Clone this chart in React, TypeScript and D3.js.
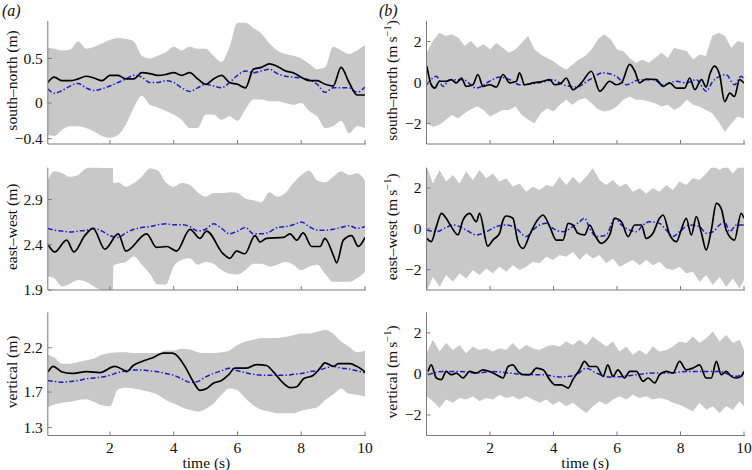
import React from "react";
import * as d3 from "d3";

// ---------------- DATA ----------------
const xTicks = [2, 4, 6, 8, 10];

// (a) position panels: common time grid
const timeA = [0.05, 0.25, 0.5, 0.75, 1, 1.25, 1.5, 1.75, 2, 2.25, 2.5, 2.75, 3, 3.25, 3.5, 3.75, 4, 4.25, 4.5, 4.75, 5, 5.25, 5.5, 5.75, 6, 6.25, 6.5, 6.75, 7, 7.25, 7.5, 7.75, 8, 8.25, 8.5, 8.75, 9, 9.25, 9.5, 9.75, 10];

// south-north (m)
const aSNUpper = [0.62, 0.61, 0.59, 0.60, 0.69, 0.61, 0.63, 0.67, 0.71, 0.73, 0.72, 0.69, 0.53, 0.50, 0.53, 0.57, 0.63, 0.59, 0.63, 0.61, 0.61, 0.53, 0.46, 0.63, 0.90, 0.90, 0.84, 0.78, 0.67, 0.59, 0.55, 0.53, 0.50, 0.44, 0.38, 0.40, 0.63, 0.59, 0.55, 0.59, 0.65];
const aSNLower = [-0.36, -0.37, -0.30, -0.26, -0.26, -0.28, -0.32, -0.37, -0.39, -0.36, -0.24, -0.05, 0.08, -0.02, -0.05, -0.09, -0.13, -0.19, -0.28, -0.28, -0.13, -0.13, -0.19, -0.15, -0.20, -0.07, 0.04, 0.04, 0.02, 0.02, 0.00, -0.02, 0.00, -0.09, -0.15, -0.28, -0.26, -0.20, -0.34, -0.26, -0.28];
const aSNObserved = [0.23, 0.29, 0.25, 0.25, 0.27, 0.30, 0.28, 0.25, 0.31, 0.31, 0.27, 0.27, 0.34, 0.33, 0.31, 0.32, 0.34, 0.31, 0.34, 0.27, 0.21, 0.27, 0.31, 0.23, 0.21, 0.17, 0.38, 0.40, 0.44, 0.41, 0.36, 0.34, 0.29, 0.25, 0.25, 0.21, 0.19, 0.40, 0.23, 0.09, 0.09];
const aSNMean = [0.16, 0.11, 0.14, 0.19, 0.22, 0.17, 0.14, 0.16, 0.19, 0.23, 0.27, 0.31, 0.29, 0.23, 0.23, 0.25, 0.23, 0.17, 0.13, 0.17, 0.21, 0.19, 0.17, 0.23, 0.31, 0.36, 0.34, 0.36, 0.38, 0.33, 0.30, 0.29, 0.28, 0.26, 0.21, 0.12, 0.17, 0.17, 0.17, 0.12, 0.18];

// east-west (m)
const aEWBandTime = [0.05, 0.25, 0.5, 0.75, 1, 1.25, 1.5, 1.75, 2, 2.09, 2.11, 2.25, 2.5, 2.75, 3, 3.25, 3.5, 3.75, 4, 4.25, 4.5, 4.75, 5, 5.25, 5.5, 5.75, 6, 6.25, 6.5, 6.75, 7, 7.25, 7.5, 7.75, 8, 8.25, 8.5, 8.75, 9, 9.25, 9.5, 9.75, 10];
const aEWUpper = [3.11, 3.21, 3.19, 3.15, 3.17, 3.24, 3.26, 3.25, 3.25, 3.25, 3.08, 3.09, 3.04, 3.08, 3.15, 3.24, 3.22, 3.09, 3.04, 3.08, 3.06, 2.98, 2.93, 2.97, 2.97, 2.98, 2.97, 2.91, 2.89, 2.87, 2.98, 2.93, 2.97, 3.08, 3.17, 3.22, 3.11, 3.09, 3.15, 3.21, 3.17, 3.19, 3.11];
const aEWLower = [2.05, 2.03, 1.94, 1.97, 2.01, 1.99, 1.94, 1.90, 1.90, 1.90, 2.17, 2.19, 2.21, 2.27, 2.18, 2.08, 1.96, 1.96, 2.16, 2.23, 2.25, 2.18, 2.21, 2.19, 2.12, 2.08, 2.07, 2.12, 2.19, 2.19, 2.16, 2.18, 2.21, 2.18, 2.12, 2.16, 2.18, 2.08, 1.99, 1.99, 1.99, 2.03, 2.10];
const aEWObsTime = [0.06, 0.27, 0.64, 0.87, 1.21, 1.47, 1.84, 2.26, 2.50, 3.15, 3.46, 3.78, 4.09, 4.51, 4.82, 5.03, 5.55, 5.76, 5.97, 6.23, 6.55, 6.71, 6.91, 7.44, 7.65, 7.86, 8.06, 8.33, 8.59, 8.74, 9.01, 9.11, 9.32, 9.58, 9.79, 10.0];
const aEWObserved = [2.40, 2.32, 2.45, 2.32, 2.50, 2.58, 2.35, 2.52, 2.33, 2.52, 2.37, 2.38, 2.33, 2.57, 2.47, 2.55, 2.30, 2.25, 2.33, 2.30, 2.50, 2.43, 2.47, 2.48, 2.52, 2.45, 2.53, 2.38, 2.38, 2.47, 2.28, 2.20, 2.45, 2.50, 2.38, 2.48];
const aEWMean = [2.58, 2.56, 2.55, 2.54, 2.55, 2.56, 2.58, 2.55, 2.50, 2.48, 2.53, 2.57, 2.59, 2.60, 2.62, 2.63, 2.62, 2.62, 2.60, 2.55, 2.57, 2.63, 2.58, 2.52, 2.55, 2.59, 2.52, 2.52, 2.54, 2.59, 2.60, 2.62, 2.65, 2.60, 2.56, 2.56, 2.57, 2.59, 2.61, 2.58, 2.60];

// vertical (m)
const aVUpper = [2.12, 2.09, 2.02, 2.02, 2.04, 2.06, 2.08, 2.12, 2.14, 2.15, 2.15, 2.14, 2.14, 2.14, 2.14, 2.17, 2.17, 2.19, 2.18, 2.15, 2.14, 2.14, 2.15, 2.17, 2.23, 2.27, 2.29, 2.31, 2.31, 2.31, 2.32, 2.34, 2.36, 2.36, 2.38, 2.40, 2.36, 2.27, 2.21, 2.15, 2.17];
const aVLower = [1.53, 1.56, 1.58, 1.59, 1.61, 1.62, 1.59, 1.55, 1.54, 1.73, 1.75, 1.74, 1.72, 1.70, 1.67, 1.61, 1.57, 1.53, 1.50, 1.48, 1.51, 1.57, 1.67, 1.74, 1.72, 1.63, 1.55, 1.50, 1.48, 1.46, 1.46, 1.46, 1.49, 1.51, 1.53, 1.61, 1.67, 1.74, 1.68, 1.67, 1.65];
const aVObsTime = [0.06, 0.22, 0.48, 0.79, 1.27, 1.68, 2.15, 2.42, 2.52, 2.73, 3.04, 3.36, 3.67, 3.93, 4.04, 4.35, 4.61, 4.82, 5.03, 5.24, 5.50, 5.71, 5.92, 6.29, 6.60, 6.91, 7.12, 7.44, 7.65, 7.86, 8.07, 8.38, 8.59, 8.74, 9.01, 9.16, 9.53, 9.74, 10.0];
const aVObserved = [1.93, 1.99, 1.93, 1.91, 1.93, 1.92, 1.99, 1.95, 1.93, 2.00, 2.05, 2.09, 2.14, 2.14, 2.13, 1.99, 1.82, 1.72, 1.74, 1.80, 1.83, 1.89, 1.97, 1.97, 2.01, 2.00, 1.93, 1.80, 1.75, 1.76, 1.85, 1.89, 1.97, 2.03, 1.99, 2.02, 2.02, 1.99, 1.93];
const aVMean = [1.83, 1.82, 1.81, 1.82, 1.83, 1.85, 1.86, 1.87, 1.89, 1.92, 1.94, 1.95, 1.95, 1.94, 1.93, 1.91, 1.89, 1.85, 1.81, 1.82, 1.87, 1.91, 1.94, 1.97, 1.94, 1.92, 1.90, 1.89, 1.89, 1.89, 1.89, 1.90, 1.91, 1.93, 1.94, 1.97, 1.99, 1.97, 1.96, 1.94, 1.92];

// (b) velocity panels
const timeB1 = [0, 0.2, 0.4, 0.6, 0.8, 1, 1.2, 1.4, 1.6, 1.8, 2, 2.2, 2.4, 2.6, 2.8, 3, 3.2, 3.4, 3.6, 3.8, 4, 4.2, 4.4, 4.6, 4.8, 5, 5.2, 5.4, 5.6, 5.8, 6, 6.2, 6.4, 6.6, 6.8, 7, 7.2, 7.4, 7.6, 7.8, 8, 8.2, 8.4, 8.6, 8.8, 9, 9.2, 9.4, 9.6, 9.8, 10];
const timeB2 = [0, 0.2, 0.41, 0.62, 0.83, 1.04, 1.25, 1.46, 1.67, 1.88, 2.09, 2.30, 2.51, 2.72, 2.93, 3.14, 3.35, 3.56, 3.77, 3.98, 4.19, 4.40, 4.61, 4.82, 5.03, 5.24, 5.45, 5.66, 5.87, 6.08, 6.29, 6.50, 6.71, 6.92, 7.13, 7.34, 7.55, 7.76, 7.97, 8.18, 8.39, 8.60, 8.81, 9.02, 9.23, 9.44, 9.65, 9.86, 10.0];

// south-north (m s-1)
const bSNUpper = [1.45, 2.02, 2.43, 2.27, 2.35, 2.19, 1.78, 2.02, 1.70, 1.86, 1.61, 1.94, 1.70, 1.45, 1.61, 1.94, 2.27, 1.61, 1.37, 1.20, 1.04, 0.80, 0.63, 0.88, 1.12, 1.29, 1.61, 2.11, 2.35, 2.11, 1.61, 1.53, 1.20, 0.96, 1.12, 0.96, 1.20, 1.45, 1.20, 1.70, 1.61, 1.53, 1.12, 1.37, 1.29, 2.27, 2.43, 2.27, 1.70, 2.02, 1.94];
const bSNLower = [-1.99, -2.16, -2.07, -1.83, -1.58, -1.75, -1.50, -1.30, -1.17, -1.34, -1.66, -1.50, -1.34, -1.34, -1.17, -1.58, -1.80, -2.00, -1.50, -1.25, -1.42, -1.09, -0.84, -1.09, -0.84, -0.76, -1.01, -1.30, -1.42, -1.34, -1.17, -0.84, -0.68, -0.84, -0.84, -0.93, -1.01, -1.17, -1.09, -1.34, -1.17, -0.84, -1.09, -1.17, -1.34, -1.50, -1.90, -2.40, -2.00, -1.66, -1.75];
const bSNObsTime = [0.01, 0.15, 0.26, 0.41, 0.62, 0.78, 0.94, 1.10, 1.25, 1.46, 1.62, 1.78, 1.99, 2.20, 2.41, 2.62, 2.83, 2.93, 3.09, 3.35, 3.67, 3.88, 4.04, 4.25, 4.40, 4.61, 4.88, 5.19, 5.46, 5.77, 5.98, 6.14, 6.40, 6.56, 6.71, 6.92, 7.24, 7.45, 7.66, 7.87, 8.13, 8.29, 8.45, 8.66, 8.81, 8.92, 9.07, 9.23, 9.39, 9.55, 9.70, 9.86, 10.0];
const bSNObserved = [0.80, -0.11, -0.27, 0.06, 0.06, 0.14, -0.02, 0.22, -0.19, -0.11, 0.39, -0.19, -0.11, -0.22, 0.39, -0.02, 0.06, 0.47, -0.11, -0.02, 0.06, 0.14, -0.11, -0.02, 0.22, -0.35, -0.02, 0.55, -0.43, 0.06, -0.11, -0.02, 0.88, 0.55, -0.02, 0.17, 0.14, -0.19, -0.02, -0.27, -0.27, 0.22, -0.35, 0.14, -0.22, 0.39, 0.80, 0.39, -0.93, -0.52, -0.68, 0.14, -0.02];
const bSNMeanTime = [0.01, 0.31, 0.52, 0.73, 1.15, 1.57, 1.99, 2.30, 2.62, 2.93, 3.35, 3.77, 3.98, 4.30, 4.72, 5.14, 5.56, 5.98, 6.29, 6.71, 7.13, 7.45, 7.87, 8.18, 8.50, 8.81, 9.02, 9.23, 9.44, 9.70, 9.91, 10.0];
const bSNMean = [-0.10, 0.30, -0.19, 0.14, 0.14, -0.27, 0.06, 0.27, 0.14, -0.11, -0.06, 0.06, 0.14, -0.11, -0.22, 0.14, 0.47, 0.30, -0.11, 0.14, 0.14, -0.11, 0.06, -0.02, 0.14, -0.43, 0.06, 0.30, 0.38, -0.11, 0.30, 0.14];

// east-west (m s-1)
const bEWUpper = [3.1, 2.23, 2.89, 2.32, 2.64, 2.23, 2.81, 2.40, 2.89, 2.48, 2.72, 2.32, 2.48, 2.07, 2.23, 1.82, 2.07, 1.91, 2.15, 2.07, 2.56, 2.15, 2.56, 2.23, 2.56, 2.97, 2.40, 2.15, 2.40, 2.07, 2.23, 1.82, 1.99, 1.74, 1.99, 1.82, 2.15, 1.91, 2.32, 2.15, 2.48, 2.40, 2.72, 3.1, 2.89, 3.1, 2.72, 3.1, 3.1];
const bEWLower = [-3.1, -2.35, -2.84, -2.27, -2.60, -2.18, -2.43, -2.02, -2.27, -1.94, -2.18, -1.86, -2.10, -1.78, -2.02, -1.86, -1.61, -1.69, -1.37, -1.53, -1.28, -1.37, -1.12, -1.53, -1.20, -1.45, -1.28, -1.69, -1.45, -1.86, -1.69, -1.53, -1.78, -1.53, -1.78, -1.61, -1.94, -2.02, -1.86, -2.18, -2.10, -2.60, -2.27, -2.76, -2.35, -2.84, -2.43, -2.92, -2.51];
const bEWObsTime = [0.01, 0.15, 0.31, 0.47, 0.62, 0.78, 0.99, 1.15, 1.36, 1.57, 1.67, 1.93, 2.09, 2.30, 2.41, 2.51, 2.72, 2.88, 3.04, 3.25, 3.46, 3.67, 3.88, 4.09, 4.30, 4.46, 4.61, 4.77, 4.98, 5.14, 5.30, 5.50, 5.77, 5.93, 6.14, 6.35, 6.56, 6.77, 6.92, 7.13, 7.34, 7.45, 7.66, 7.87, 8.02, 8.18, 8.34, 8.50, 8.66, 8.81, 8.97, 9.13, 9.28, 9.44, 9.70, 9.91, 10.0];
const bEWObserved = [-0.47, -0.63, 0.11, 0.76, 0.52, 0.11, -0.30, 0.43, 0.76, 0.35, 0.76, -0.85, -0.55, -0.22, 0.43, 0.63, 0.52, -0.63, -0.96, -0.30, 0.35, 0.68, 0.11, -0.55, -0.55, 0.27, 0.19, -0.22, -0.30, 0.19, -0.30, -0.71, -0.30, 0.52, 0.35, -0.38, 0.19, 0.19, -0.47, -0.22, 0.52, 0.68, -0.30, -0.63, -0.06, 0.52, -0.30, 0.60, -0.22, -1.04, -0.06, 1.25, 1.01, -0.06, -0.55, 0.76, 0.52];
const bEWMeanTime = [0.01, 0.31, 0.62, 0.83, 1.04, 1.25, 1.57, 1.88, 2.20, 2.51, 2.83, 3.14, 3.35, 3.56, 3.77, 3.98, 4.30, 4.61, 4.82, 4.98, 5.14, 5.35, 5.66, 5.93, 6.14, 6.40, 6.61, 6.82, 7.03, 7.34, 7.55, 7.76, 7.97, 8.29, 8.60, 8.81, 9.02, 9.23, 9.39, 9.55, 9.76, 10.0];
const bEWMean = [-0.06, -0.14, 0.07, 0.19, 0.11, -0.06, -0.30, -0.14, 0.11, 0.19, 0.02, -0.38, -0.06, 0.19, 0.27, 0.02, -0.14, 0.11, 0.35, 0.52, 0.02, -0.38, -0.30, 0.52, 0.19, -0.06, -0.14, 0.19, 0.35, 0.27, -0.06, -0.38, -0.14, 0.19, 0.11, -0.22, -0.14, 0.19, 0.35, -0.14, 0.19, 0.19];

// vertical (m s-1)
const bVUpper = [1.01, 1.66, 1.09, 1.50, 1.17, 1.41, 1.01, 1.33, 1.17, 1.25, 1.09, 1.25, 1.17, 1.50, 1.17, 1.41, 1.25, 1.17, 1.33, 1.41, 1.33, 1.58, 1.41, 1.66, 1.41, 1.82, 1.58, 1.33, 1.58, 1.09, 1.33, 0.93, 1.17, 0.93, 1.33, 1.09, 1.17, 1.33, 1.58, 1.50, 1.82, 1.50, 1.74, 2.06, 1.58, 1.90, 1.50, 1.66, 1.17];
const bVLower = [-1.09, -1.33, -1.66, -1.25, -1.41, -1.17, -1.25, -1.09, -1.33, -1.17, -1.25, -1.01, -1.17, -1.09, -1.25, -1.09, -1.25, -1.41, -1.25, -1.50, -1.33, -1.58, -1.41, -1.66, -1.90, -1.58, -1.33, -1.50, -1.25, -1.09, -1.25, -1.01, -1.17, -1.09, -1.25, -1.17, -1.25, -1.41, -1.50, -1.66, -1.82, -1.41, -1.74, -1.58, -1.90, -1.58, -1.74, -1.33, -1.58];
const bVObsTime = [0.05, 0.15, 0.31, 0.47, 0.62, 0.78, 0.94, 1.15, 1.36, 1.57, 1.78, 1.99, 2.20, 2.41, 2.57, 2.72, 2.88, 3.04, 3.25, 3.46, 3.67, 3.88, 4.04, 4.25, 4.46, 4.61, 4.82, 4.98, 5.14, 5.35, 5.56, 5.71, 5.87, 6.03, 6.24, 6.40, 6.61, 6.82, 6.98, 7.19, 7.34, 7.55, 7.76, 7.97, 8.18, 8.39, 8.60, 8.81, 8.97, 9.13, 9.28, 9.44, 9.60, 9.76, 9.91, 10.0];
const bVObserved = [0.12, 0.44, -0.20, -0.28, 0.12, -0.04, 0.04, -0.20, 0.12, 0.04, 0.20, 0.12, -0.04, -0.20, 0.36, 0.44, 0.12, -0.04, -0.04, 0.28, 0.20, -0.28, -0.53, -0.53, -0.69, -0.28, 0.20, 0.61, 0.36, 0.36, -0.12, 0.44, -0.12, 0.20, -0.20, 0.12, 0.12, -0.36, -0.20, -0.44, -0.04, 0.12, 0.04, 0.61, 0.20, 0.28, 0.44, -0.20, -0.20, 0.61, -0.04, 0.12, -0.12, -0.20, -0.12, 0.12];
const bVMeanTime = [0.05, 0.52, 1.04, 1.57, 2.09, 2.62, 3.14, 3.67, 4.19, 4.72, 5.03, 5.35, 5.77, 6.19, 6.61, 7.13, 7.66, 8.18, 8.71, 9.23, 9.55, 9.76, 10.0];
const bVMean = [-0.04, 0.12, 0.12, 0.04, 0.12, 0.04, -0.04, -0.04, -0.15, -0.04, 0.28, 0.04, -0.15, -0.12, -0.04, 0.04, 0.04, 0.12, 0.12, 0.12, -0.04, -0.12, 0.04];

// axis tick labels
const aSNTicks = [0.5, 0, -0.4];
const aEWTicks = [2.9, 2.4, 1.9];
const aVTicks = [2.2, 1.7, 1.3];
const bTicks = [2, 0, -2];

// ---------------- LAYOUT ----------------
const FONT = "'Liberation Serif', 'Times New Roman', serif";
const TICK_FS = 15.5;
const LABEL_FS = 15.5;
const LEFT = { x0: 47.8, x1: 365, domain: [0.05, 10] };
const RIGHT = { x0: 426.5, x1: 744, domain: [0, 10] };
const ROWS = [
  { y0: 21, y1: 144 },
  { y0: 167.7, y1: 290 },
  { y0: 312.3, y1: 435.5 },
];

const fmt = (v: number) => {
  const s = String(v);
  return s.startsWith("-") ? "\u2212" + s.slice(1) : s;
};

type PanelProps = {
  id: string;
  col: typeof LEFT;
  row: { y0: number; y1: number };
  yDomain: [number, number];
  yTicks: number[];
  bandT: number[];
  bandLo: number[];
  bandHi: number[];
  obsT: number[];
  obs: number[];
  meanT: number[];
  mean: number[];
  smoothBand: boolean;
  showXLabels: boolean;
  yLabel: React.ReactNode;
  yLabelX: number;
};

function Panel(p: PanelProps) {
  const x = d3.scaleLinear().domain(p.col.domain).range([p.col.x0, p.col.x1]);
  const y = d3.scaleLinear().domain(p.yDomain).range([p.row.y1, p.row.y0]);
  const band = p.bandT.map((t, i) => ({ t, lo: p.bandLo[i], hi: p.bandHi[i] }));
  const area = d3
    .area<{ t: number; lo: number; hi: number }>()
    .x((d) => x(d.t))
    .y0((d) => y(d.lo))
    .y1((d) => y(d.hi))
    .curve(p.smoothBand ? d3.curveMonotoneX : d3.curveLinear);
  const line = d3
    .line<[number, number]>()
    .x((d) => x(d[0]))
    .y((d) => y(d[1]))
    .curve(d3.curveMonotoneX);
  const obsPts = p.obsT.map((t, i) => [t, p.obs[i]] as [number, number]);
  const meanPts = p.meanT.map((t, i) => [t, p.mean[i]] as [number, number]);
  const axisColor = "#7a7a7a";
  const midY = (p.row.y0 + p.row.y1) / 2 - 2;
  return (
    <g>
      <defs>
        <clipPath id={p.id}>
          <rect x={p.col.x0} y={p.row.y0} width={p.col.x1 - p.col.x0} height={p.row.y1 - p.row.y0} />
        </clipPath>
      </defs>
      <g clipPath={`url(#${p.id})`}>
        <path d={area(band) || ""} fill="#c8c8c8" stroke="none" />
        <path d={line(meanPts) || ""} fill="none" stroke="#1c1cc8" strokeWidth={1.5} strokeDasharray="5,2.2,1.4,2.2" />
        <path d={line(obsPts) || ""} fill="none" stroke="#000" strokeWidth={1.7} />
      </g>
      {/* axes */}
      <line x1={p.col.x0} x2={p.col.x0} y1={p.row.y0} y2={p.row.y1} stroke={axisColor} strokeWidth={1} />
      <line x1={p.col.x0} x2={p.col.x1 + 1} y1={p.row.y1} y2={p.row.y1} stroke={axisColor} strokeWidth={1} />
      {xTicks.map((t) => (
        <g key={"x" + t}>
          <line x1={x(t)} x2={x(t)} y1={p.row.y1} y2={p.row.y1 - 4} stroke={axisColor} strokeWidth={1} />
          {p.showXLabels && (
            <text x={x(t)} y={p.row.y1 + 17} textAnchor="middle" fontSize={TICK_FS} fontFamily={FONT} fill="#111">
              {t}
            </text>
          )}
        </g>
      ))}
      {p.yTicks.map((v) => (
        <g key={"y" + v}>
          <line x1={p.col.x0} x2={p.col.x0 + 4} y1={y(v)} y2={y(v)} stroke={axisColor} strokeWidth={1} />
          <text x={p.col.x0 - 5} y={y(v)} dy="0.33em" textAnchor="end" fontSize={TICK_FS} fontFamily={FONT} fill="#111">
            {fmt(v)}
          </text>
        </g>
      ))}
      <text
        transform={`translate(${p.yLabelX},${midY}) rotate(-90)`}
        textAnchor="middle"
        dy="0.33em"
        fontSize={LABEL_FS}
        fontFamily={FONT}
        fill="#111"
      >
        {p.yLabel}
      </text>
      {p.showXLabels && (
        <text x={(p.col.x0 + p.col.x1) / 2} y={p.row.y1 + 32} textAnchor="middle" fontSize={LABEL_FS} fontFamily={FONT} fill="#111">
          time (s)
        </text>
      )}
    </g>
  );
}

const unitLabel = (name: string) => (
  <>
    {name + " (m\u2009s"}
    <tspan dy="-6" fontSize={10.5}>{"\u22121"}</tspan>
    <tspan dy="6">)</tspan>
  </>
);

export default function App() {
  return (
    <svg
      width={752}
      height={470}
      viewBox="0 0 752 470"
      style={{ position: "absolute", left: 0, top: 0, background: "#fff" }}
    >
      <rect x={0} y={0} width={752} height={470} fill="#fff" />
      <text x={2} y={16} fontSize={16} fontStyle="italic" fontFamily={FONT} fill="#111">(a)</text>
      <text x={379} y={16} fontSize={16} fontStyle="italic" fontFamily={FONT} fill="#111">(b)</text>

      <Panel id="c1" col={LEFT} row={ROWS[0]} yDomain={[-0.46, 0.92]} yTicks={aSNTicks}
        bandT={timeA} bandLo={aSNLower} bandHi={aSNUpper} obsT={timeA} obs={aSNObserved}
        meanT={timeA} mean={aSNMean} smoothBand={true} showXLabels={false}
        yLabel={"south\u2013north (m)"} yLabelX={12} />
      <Panel id="c2" col={LEFT} row={ROWS[1]} yDomain={[1.9, 3.25]} yTicks={aEWTicks}
        bandT={aEWBandTime} bandLo={aEWLower} bandHi={aEWUpper} obsT={aEWObsTime} obs={aEWObserved}
        meanT={timeA} mean={aEWMean} smoothBand={true} showXLabels={false}
        yLabel={"east\u2013west (m)"} yLabelX={12} />
      <Panel id="c3" col={LEFT} row={ROWS[2]} yDomain={[1.21, 2.6]} yTicks={aVTicks}
        bandT={timeA} bandLo={aVLower} bandHi={aVUpper} obsT={aVObsTime} obs={aVObserved}
        meanT={timeA} mean={aVMean} smoothBand={true} showXLabels={true}
        yLabel={"vertical (m)"} yLabelX={12} />

      <Panel id="c4" col={RIGHT} row={ROWS[0]} yDomain={[-3, 3]} yTicks={bTicks}
        bandT={timeB1} bandLo={bSNLower} bandHi={bSNUpper} obsT={bSNObsTime} obs={bSNObserved}
        meanT={bSNMeanTime} mean={bSNMean} smoothBand={false} showXLabels={false}
        yLabel={unitLabel("south\u2013north")} yLabelX={392} />
      <Panel id="c5" col={RIGHT} row={ROWS[1]} yDomain={[-3, 3]} yTicks={bTicks}
        bandT={timeB2} bandLo={bEWLower} bandHi={bEWUpper} obsT={bEWObsTime} obs={bEWObserved}
        meanT={bEWMeanTime} mean={bEWMean} smoothBand={false} showXLabels={false}
        yLabel={unitLabel("east\u2013west")} yLabelX={392} />
      <Panel id="c6" col={RIGHT} row={ROWS[2]} yDomain={[-3, 3]} yTicks={bTicks}
        bandT={timeB2} bandLo={bVLower} bandHi={bVUpper} obsT={bVObsTime} obs={bVObserved}
        meanT={bVMeanTime} mean={bVMean} smoothBand={false} showXLabels={true}
        yLabel={unitLabel("vertical")} yLabelX={392} />
    </svg>
  );
}
